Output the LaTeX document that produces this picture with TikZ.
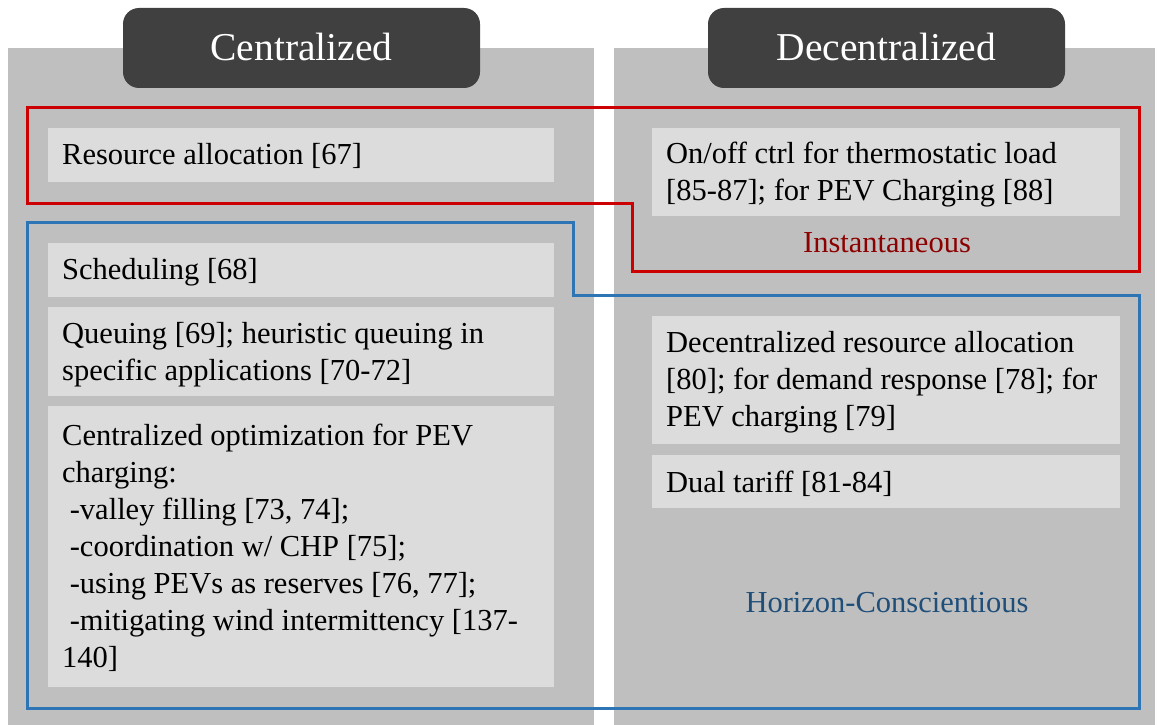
\documentclass[tikz,border=0pt]{standalone}
\usepackage{fontspec}
\setmainfont{Liberation Serif}
\definecolor{panelgray}{HTML}{BFBFBF}
\definecolor{boxgray}{HTML}{DCDCDC}
\definecolor{headgray}{HTML}{404040}
\definecolor{instred}{HTML}{CC0000}
\definecolor{insttext}{HTML}{8C0000}
\definecolor{horblue}{HTML}{2E75B6}
\definecolor{hortext}{HTML}{1F4E79}
\begin{document}
\begin{tikzpicture}[x=1pt,y=-1pt,
  panel/.style={fill=panelgray},
  itembox/.style={fill=boxgray},
  headbox/.style={fill=headgray, rounded corners=16pt},
  headtext/.style={anchor=base, text=white, inner sep=0pt,
    font=\fontsize{39.5}{47}\selectfont},
  itemtext/.style={anchor=north west, inner sep=0pt, align=left,
    font=\fontsize{30.5}{37}\selectfont},
  grouplabel/.style={anchor=base, inner sep=0pt,
    font=\fontsize{30.5}{37}\selectfont},
  redframe/.style={draw=instred, line width=3pt},
  blueframe/.style={draw=horblue, line width=3pt}]

% canvas
\fill[white] (0,0) rectangle (1157,725);
\useasboundingbox (0,0) rectangle (1157,725);

% the two columns
\fill[panel] (8,48) rectangle (594,725);
\fill[panel] (614,48) rectangle (1155,725);

% column headers
\fill[headbox] (123,8) rectangle (480,88);
\fill[headbox] (708,8) rectangle (1065,88);
\node[headtext] (hcen) at (301.5,61) {Centralized};
\node[headtext] (hdec) at (886.5,61) {Decentralized};

% item boxes, centralized column
\fill[itembox] (48,128) rectangle (554,182);
\fill[itembox] (48,243) rectangle (554,297);
\fill[itembox] (48,307) rectangle (554,396);
\fill[itembox] (48,406) rectangle (554,687);

% item boxes, decentralized column
\fill[itembox] (652,128) rectangle (1120,216);
\fill[itembox] (652,316) rectangle (1120,444);
\fill[itembox] (652,455) rectangle (1120,508);

% item texts (first baseline sits 25.9pt below the node top)
\node[itemtext] (resalloc) at (62,138.1) {\strut Resource allocation [67]};
\node[itemtext] (sched) at (62,253.1) {\strut Scheduling [68]};
\node[itemtext] (queue) at (62,317.1) {\strut Queuing [69]; heuristic queuing in\\specific applications [70-72]};
\node[itemtext] (centopt) at (62,419.1) {\strut Centralized optimization for PEV\\charging:\\
  \ -valley filling [73, 74];\\
  \ -coordination w/ CHP [75];\\
  \ -using PEVs as reserves [76, 77];\\
  \ -mitigating wind intermittency [137-\\140]};
\node[itemtext] (onoff) at (666,137.1) {\strut On/off ctrl for thermostatic load\\{}[85-87]; for PEV Charging [88]};
\node[itemtext] (decalloc) at (666,326.1) {\strut Decentralized resource allocation\\{}[80]; for demand response [78]; for\\PEV charging [79]};
\node[itemtext] (dual) at (666,466.1) {\strut Dual tariff [81-84]};

% group labels
\node[grouplabel, text=insttext] (inst) at (887,252) {Instantaneous};
\node[grouplabel, text=hortext] (hor) at (887,612) {Horizon-Conscientious};

% group outlines
\draw[redframe] (27,107) -- (1139,107) -- (1139,271) -- (632,271)
  -- (632,203) -- (27,203) -- cycle;
\draw[blueframe] (27,222) -- (573,222) -- (573,295) -- (1139,295)
  -- (1139,708) -- (27,708) -- cycle;
\end{tikzpicture}
\end{document}
